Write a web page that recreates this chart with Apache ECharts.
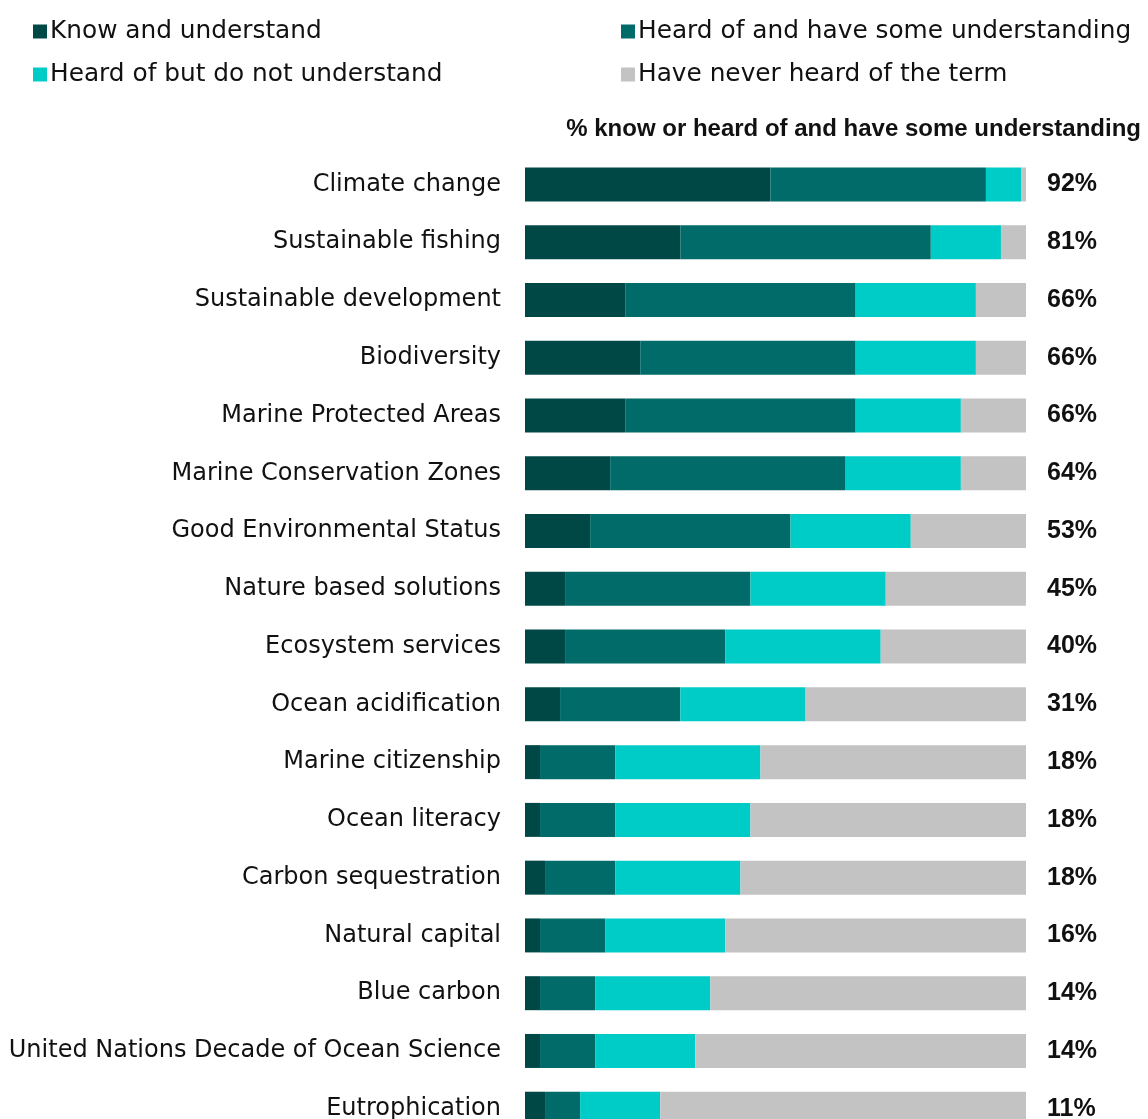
<!DOCTYPE html>
<html>
<head>
<meta charset="utf-8">
<script src="https://cdn.jsdelivr.net/npm/echarts@6/dist/echarts.min.js"></script>
<style>
  html, body { margin: 0; padding: 0; background: #fff; overflow: hidden; }
  #chart { width: 1148px; height: 1140px; }
</style>
</head>
<body>
<div id="chart"></div>
<script>
// Awareness of marine / environmental terms (% of respondents)
const terms = [
  'Climate change', 'Sustainable fishing', 'Sustainable development', 'Biodiversity',
  'Marine Protected Areas', 'Marine Conservation Zones', 'Good Environmental Status',
  'Nature based solutions', 'Ecosystem services', 'Ocean acidification',
  'Marine citizenship', 'Ocean literacy', 'Carbon sequestration', 'Natural capital',
  'Blue carbon', 'United Nations Decade of Ocean Science', 'Eutrophication'
];
const knowUnderstand   = [49, 31, 20, 23, 20, 17, 13,  8,  8,  7,  3,  3,  4,  3,  3,  3,  4];
const heardSomeUnderst = [43, 50, 46, 43, 46, 47, 40, 37, 32, 24, 15, 15, 14, 13, 11, 11,  7];
const heardNotUnderst  = [ 7, 14, 24, 24, 21, 23, 24, 27, 31, 25, 29, 27, 25, 24, 23, 20, 16];
const neverHeard       = [ 1,  5, 10, 10, 13, 13, 23, 28, 29, 44, 53, 55, 57, 60, 63, 66, 73];

const seriesNames = [
  'Know and understand',
  'Heard of and have some understanding',
  'Heard of but do not understand',
  'Have never heard of the term'
];
const colors = ['#004846', '#006b68', '#00ccc7', '#c4c3c4'];

const regularFont = 'DejaVu Sans';
const boldFont = '"Liberation Sans", Arial, sans-serif';

const chart = echarts.init(document.getElementById('chart'), null, { renderer: 'canvas' });

const legendPos = [
  { left: 28, top: 14 },
  { left: 616, top: 14 },
  { left: 28, top: 57 },
  { left: 616, top: 57 }
];

const legends = seriesNames.map((name, i) => ({
  data: [name],
  left: legendPos[i].left,
  top: legendPos[i].top,
  itemWidth: 14,
  itemHeight: 14,
  itemGap: 0,
  icon: 'rect',
  selectedMode: false,
  textStyle: { fontFamily: regularFont, fontSize: 24.8, color: '#111', padding: [0, 0, 0, -2] }
}));

const dataSets = [knowUnderstand, heardSomeUnderst, heardNotUnderst, neverHeard];

const series = dataSets.map((values, i) => ({
  name: seriesNames[i],
  type: 'bar',
  stack: 'total',
  barWidth: 34,
  data: values,
  itemStyle: { color: colors[i] },
  emphasis: { disabled: true },
  label: i === 3 ? {
    show: true,
    position: 'right',
    distance: 21,
    fontFamily: boldFont,
    fontWeight: 'bold',
    fontSize: 25,
    color: '#111',
    formatter: p => (knowUnderstand[p.dataIndex] + heardSomeUnderst[p.dataIndex]) + '%'
  } : { show: false }
}));

chart.setOption({
  animation: false,
  backgroundColor: '#fff',
  legend: legends,
  title: {
    text: '% know or heard of and have some understanding',
    right: 2,
    top: 112,
    textStyle: { fontFamily: boldFont, fontWeight: 'bold', fontSize: 24, color: '#111' }
  },
  grid: { left: 525, right: 122, top: 155.6, height: 982, containLabel: false },
  xAxis: {
    type: 'value',
    min: 0,
    max: 100,
    show: false
  },
  yAxis: {
    type: 'category',
    data: terms,
    inverse: true,
    axisLine: { show: false },
    axisTick: { show: false },
    axisLabel: {
      margin: 24,
      fontFamily: regularFont,
      fontSize: 24,
      color: '#111'
    }
  },
  series: series
});
</script>
</body>
</html>
